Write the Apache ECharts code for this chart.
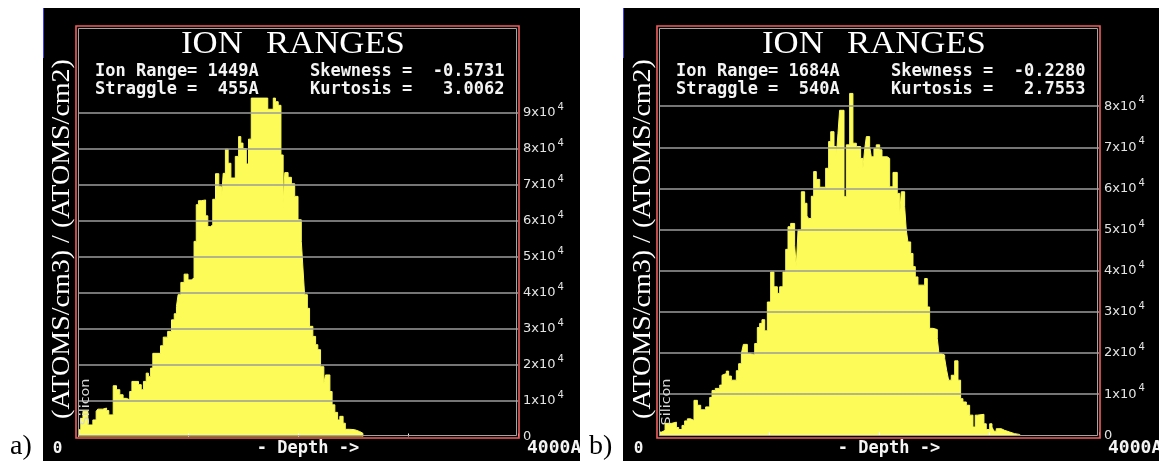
<!DOCTYPE html>
<html><head><meta charset="utf-8">
<script src="https://cdn.jsdelivr.net/npm/echarts@6/dist/echarts.min.js"></script>
<style>html,body{margin:0;padding:0;background:#fff}#c{width:1159px;height:461px}</style>
</head><body><div id="c"></div>
<script>
// ---------------- data ----------------
const depthTicks = [0, 1000, 2000, 3000, 4000];          // Angstrom
const depthEndLabels = ['0', '4000A'];
const xTitle = '- Depth ->';
const yTitle = '(ATOMS/cm3) / (ATOMS/cm2)';
const titleWords = ['ION', 'RANGES'];
const targetName = 'Silicon';
const panelNames = ['a)', 'b)'];

const statsA = ['Ion Range= 1449A     Skewness =  -0.5731',
                'Straggle =  455A     Kurtosis =   3.0062'];
const statsB = ['Ion Range= 1684A     Skewness =  -0.2280',
                'Straggle =  540A     Kurtosis =   2.7553'];

const gridValuesA = [10000, 20000, 30000, 40000, 50000, 60000, 70000, 80000, 90000];
const gridValuesB = [10000, 20000, 30000, 40000, 50000, 60000, 70000, 80000];

// histogram steps: start depth of each step (A) and its height
const depthA = [0, 25, 45, 90, 135, 165, 180, 225, 260, 280, 320, 350, 380, 410, 440, 470, 490, 550, 575, 595,
  620, 640, 660, 680, 750, 775, 815, 850, 875, 895, 910, 935, 965, 1000, 1030, 1055, 1075, 1095, 1120, 1160,
  1180, 1205, 1225, 1250, 1280, 1305, 1320, 1340, 1365, 1390, 1430, 1460, 1480, 1500, 1530, 1550, 1575, 1725, 1775, 1795,
  1820, 1845, 1865, 1880, 1910, 1940, 1970, 2000, 2030, 2045, 2060, 2085, 2105, 2135, 2160, 2180, 2205, 2235, 2250, 2290,
  2310, 2335, 2360, 2380, 2410, 2430, 2470, 2515, 2560, 2590];
const countsA = [1900, 5000, 7000, 3200, 4600, 7000, 7600, 7900, 7200, 6000, 14100, 13000, 11600, 10600, 10200, 12500, 15300, 14400, 13000, 15300,
  17600, 16700, 19000, 23100, 25200, 27600, 29200, 32400, 34100, 36100, 39400, 42800, 45100, 43500, 44000, 54200, 64400, 65500, 65700, 61300,
  58300, 58800, 65900, 73000, 69400, 66200, 73100, 79800, 75900, 71800, 77800, 83300, 81500, 80000, 75700, 82600, 94000, 90900, 94000, 93000,
  92000, 78200, 64800, 73300, 72000, 70200, 66700, 60200, 54200, 46800, 39400, 35600, 30600, 27800, 25500, 24100, 19400, 14800, 17100, 12500,
  8800, 6700, 4600, 5600, 3700, 2000, 1900, 1400, 900, 0];

const depthB = [0, 25, 55, 115, 158, 179, 209, 233, 258, 288, 318, 349, 379, 424, 461, 482, 512, 552, 573, 591,
  612, 633, 658, 703, 724, 749, 767, 803, 824, 870, 894, 915, 936, 961, 985, 1015, 1045, 1076, 1097, 1127,
  1152, 1173, 1197, 1233, 1248, 1264, 1294, 1324, 1345, 1361, 1385, 1406, 1430, 1461, 1515, 1542, 1561, 1591, 1612, 1627,
  1642, 1682, 1703, 1733, 1763, 1794, 1833, 1854, 1869, 1885, 1915, 1930, 1954, 1975, 2006, 2027, 2075, 2097, 2127, 2166,
  2188, 2203, 2233, 2248, 2263, 2288, 2309, 2330, 2354, 2415, 2439, 2460, 2491, 2530, 2545, 2566, 2597, 2615, 2633, 2657,
  2688, 2718, 2742, 2763, 2794, 2824, 2854, 2875, 2894, 2954, 2975, 3006, 3027, 3045, 3066, 3112, 3142, 3188, 3233, 3280];
const countsB = [800, 1200, 2900, 3200, 1900, 1400, 2400, 3500, 4000, 3600, 8500, 7300, 6200, 6900, 9200, 10900, 11400, 12200, 14600, 15000,
  15600, 14400, 13400, 15700, 17400, 19900, 22100, 19900, 19500, 22300, 26200, 27200, 28100, 25400, 32400, 39700, 36100, 34500, 36100, 39700,
  45200, 50700, 51500, 46200, 41100, 49900, 59200, 56400, 53300, 52700, 58100, 64100, 62200, 60300, 64900, 71400, 73800, 70200, 67700, 73400,
  79000, 58000, 70600, 83100, 71000, 70200, 67300, 65000, 69400, 72600, 70200, 67700, 69700, 70600, 69400, 67700, 67300, 60400, 63900, 58800,
  53900, 59200, 55600, 49900, 47000, 44200, 41000, 38500, 36500, 38100, 31200, 26000, 25700, 23500, 19900, 19500, 18700, 15800, 13400, 14600,
  18100, 13400, 8900, 8100, 7300, 4900, 2000, 4900, 5100, 2800, 1400, 2800, 2000, 1000, 1600, 1200, 800, 400, 200, 0];

// ---------------- layout / style ----------------
const YELLOW = '#fcfb58';
const panels = [
  { ox: 0,   blackX: 43,  blackW: 537, bottom: 436.5, pxPerUnit: 36.0,  depth: depthA, counts: countsA, grid: gridValuesA, stats: statsA },
  { ox: 581, blackX: 623, blackW: 536, bottom: 435.3, pxPerUnit: 41.14, depth: depthB, counts: countsB, grid: gridValuesB, stats: statsB }
];
const PLOT_LEFT = 78, PLOT_W = 440, PLOT_TOP = 28;

const grids = [], xAxes = [], yAxes = [], series = [], graphics = [];

panels.forEach((p, i) => {
  const h = p.bottom - PLOT_TOP;
  const yMax = h / p.pxPerUnit * 10000;
  const shown = [0].concat(p.grid);
  grids.push({ left: p.ox + PLOT_LEFT, top: PLOT_TOP, width: PLOT_W, height: h });
  xAxes.push({
    type: 'value', gridIndex: i, min: depthTicks[0], max: depthTicks[depthTicks.length - 1],
    interval: depthTicks[1] - depthTicks[0], z: 3,
    axisLine: { show: false }, axisLabel: { show: false }, splitLine: { show: false },
    axisTick: { show: true, inside: true, length: 3, lineStyle: { color: '#ffffff', width: 1 } }
  });
  yAxes.push({
    type: 'value', gridIndex: i, min: 0, max: yMax, interval: 10000, position: 'right', z: 3,
    axisLine: { show: false }, axisTick: { show: false }, splitLine: { show: false },
    axisLabel: {
      margin: 5, color: '#e4e4e4',
      formatter: v => {
        if (!shown.includes(Math.round(v))) return '';
        if (v === 0) return '{m|0}';
        return '{m|' + Math.round(v / 10000) + 'x10}{s|4}';
      },
      rich: {
        m: { fontFamily: 'DejaVu Sans', fontSize: 13, color: '#e4e4e4' },
        s: { fontFamily: 'DejaVu Sans', fontSize: 10, color: '#e4e4e4', padding: [0, 0, 11, 2] }
      }
    }
  });
  series.push({
    type: 'line', xAxisIndex: i, yAxisIndex: i, step: 'end', symbol: 'none', showSymbol: false, silent: true,
    data: p.depth.map((d, k) => [d, p.counts[k]]),
    lineStyle: { color: YELLOW, width: 1 },
    areaStyle: { color: YELLOW, opacity: 1 },
    markLine: {
      silent: true, symbol: ['none', 'none'], label: { show: false }, animation: false,
      lineStyle: { color: '#9c9c9c', width: 1.6, type: 'solid' },
      emphasis: { disabled: true },
      data: p.grid.map(v => ({ yAxis: v }))
    }
  });

  const ox = p.ox;
  // black backdrop
  graphics.push({ type: 'rect', z: -10, silent: true, shape: { x: p.blackX, y: 8, width: p.blackW, height: 453 }, style: { fill: '#000000' } });
  graphics.push({ type: 'line', z: 21, silent: true, shape: { x1: p.blackX + 0.5, y1: 8, x2: p.blackX + 0.5, y2: 58 }, style: { stroke: '#3c3cff', lineWidth: 1 } });
  // borders
  graphics.push({ type: 'rect', z: 20, silent: true, shape: { x: ox + 76, y: 26, width: 443, height: 412 }, style: { fill: null, stroke: '#f25e5e', lineWidth: 1.6 } });
  graphics.push({ type: 'rect', z: 20, silent: true, shape: { x: ox + 78.5, y: 28.5, width: 438, height: 407 }, style: { fill: null, stroke: '#a4a4a4', lineWidth: 1 } });
  // title
  graphics.push({ type: 'text', z: 20, silent: true, x: ox + 181, y: 45, scaleX: 1.12,
    style: { text: titleWords[0], font: '31px "Liberation Serif"', fill: '#ffffff', align: 'left', verticalAlign: 'middle' } });
  graphics.push({ type: 'text', z: 20, silent: true, x: ox + 266, y: 45, scaleX: 1.12,
    style: { text: titleWords[1], font: '31px "Liberation Serif"', fill: '#ffffff', align: 'left', verticalAlign: 'middle' } });
  // stats
  p.stats.forEach((row, r) => {
    graphics.push({ type: 'text', z: 20, silent: true, x: ox + 95, y: 71.5 + r * 18,
      style: { text: row, font: 'bold 17px "DejaVu Sans Mono"', fill: '#f4f4f4', align: 'left', verticalAlign: 'middle' } });
  });
  // y title
  graphics.push({ type: 'text', z: 20, silent: true, x: ox + 62, y: 239, rotation: Math.PI / 2, scaleX: 1.12,
    style: { text: yTitle, font: '25px "Liberation Serif"', fill: '#ffffff', align: 'center', verticalAlign: 'middle' } });
  // target label
  graphics.push({ type: 'text', z: 20, silent: true, x: ox + 86, y: 402, rotation: Math.PI / 2, scaleX: 1.2,
    style: { text: targetName, font: '12px "DejaVu Sans"', fill: '#d8d8d8', align: 'center', verticalAlign: 'middle' } });
  // bottom labels
  graphics.push({ type: 'text', z: 20, silent: true, x: ox + 57.5, y: 449,
    style: { text: depthEndLabels[0], font: 'bold 16px "DejaVu Sans Mono"', fill: '#f4f4f4', align: 'center', verticalAlign: 'middle' } });
  graphics.push({ type: 'text', z: 20, silent: true, x: ox + 308, y: 449,
    style: { text: xTitle, font: 'bold 17px "DejaVu Sans Mono"', fill: '#f4f4f4', align: 'center', verticalAlign: 'middle' } });
  graphics.push({ type: 'text', z: 12, silent: true, x: ox + 527, y: 449, scaleX: 1.06,
    style: { text: depthEndLabels[1], font: 'bold 17px "DejaVu Sans Mono"', fill: '#f4f4f4', align: 'left', verticalAlign: 'middle' } });
  // panel letter
  graphics.push({ type: 'text', z: 16, silent: true, x: [10, 589][i], y: 447,
    style: { text: panelNames[i], font: '28px "Liberation Serif"', fill: '#000000', align: 'left', verticalAlign: 'middle' } });
});
// white gap between the two panels
graphics.push({ type: 'rect', z: 15, silent: true, shape: { x: 580, y: 0, width: 43, height: 461 }, style: { fill: '#ffffff' } });

const chart = echarts.init(document.getElementById('c'), null, { renderer: 'canvas' });
chart.setOption({
  backgroundColor: '#ffffff',
  animation: false,
  grid: grids, xAxis: xAxes, yAxis: yAxes, series: series,
  graphic: { elements: graphics }
});
</script></body></html>
